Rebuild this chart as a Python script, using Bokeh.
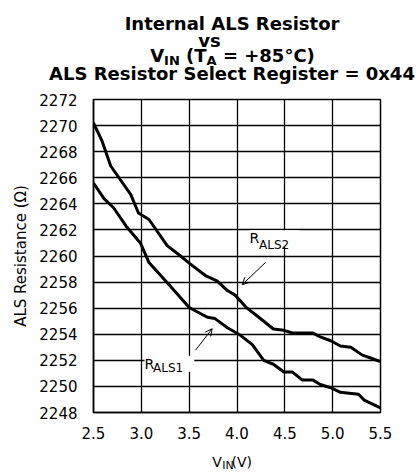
import math
from bokeh.plotting import figure
from bokeh.layouts import column
from bokeh.models import Range1d, FixedTicker, Label, Arrow, OpenHead, NumeralTickFormatter
from bokeh.core.properties import value
from bokeh.embed import file_html
from bokeh.resources import INLINE

# ---- data ----
vin_als2 = [2.50, 2.59, 2.68, 2.89, 2.97, 3.08, 3.27, 3.41, 3.51, 3.67, 3.79, 3.90, 3.98,
            4.09, 4.28, 4.38, 4.49, 4.58, 4.79, 4.87, 4.98, 5.08, 5.19, 5.31, 5.39, 5.50]
r_als2 = [2270.2, 2268.8, 2266.9, 2264.7, 2263.3, 2262.8, 2260.8, 2260.0, 2259.4, 2258.5,
          2258.1, 2257.35, 2257.0, 2256.1, 2255.0, 2254.4, 2254.3, 2254.1, 2254.1, 2253.8,
          2253.5, 2253.1, 2253.0, 2252.4, 2252.2, 2251.9]

vin_als1 = [2.50, 2.61, 2.71, 2.85, 2.99, 3.08, 3.29, 3.50, 3.69, 3.77, 3.90, 4.04, 4.16,
            4.28, 4.38, 4.49, 4.58, 4.68, 4.79, 4.87, 4.98, 5.08, 5.27, 5.33, 5.50]
r_als1 = [2265.6, 2264.4, 2263.7, 2262.2, 2261.0, 2259.5, 2257.8, 2256.05, 2255.3, 2255.2,
          2254.5, 2253.9, 2253.2, 2252.0, 2251.7, 2251.1, 2251.1, 2250.5, 2250.5, 2250.15,
          2249.9, 2249.55, 2249.4, 2248.95, 2248.35]

x_ticks = [2.5, 3.0, 3.5, 4.0, 4.5, 5.0, 5.5]
y_ticks = [2248, 2250, 2252, 2254, 2256, 2258, 2260, 2262, 2264, 2266, 2268, 2270, 2272]

FONT = "DejaVu Sans"
W = 420
OFF = 2
TOP_H, MAIN_H, BOT_H = 88, 353, 30


def strip(height, y_top):
    f = figure(width=W, height=height, output_backend="svg", toolbar_location=None,
               x_range=Range1d(0, W), y_range=Range1d(y_top + height, y_top),
               x_axis_type=None, y_axis_type=None, frame_align=False,
               min_border=0, min_border_left=0, min_border_right=0,
               min_border_top=0, min_border_bottom=0)
    f.title.visible = False
    f.grid.visible = False
    f.outline_line_color = None
    f.background_fill_color = "white"
    f.border_fill_color = "white"
    return f


def put(f, texts, xs, ys, size, bold=False, align="left"):
    f.text(x=xs, y=ys, text=texts, text_font=value(FONT), text_font_size=value(size),
           text_font_style=value("bold" if bold else "normal"), text_align=value(align),
           text_baseline=value("alphabetic"), text_color="black")


# ---- title strip ----
top = strip(TOP_H, OFF)
put(top, ["Internal ALS Resistor", "ALS Resistor Select Register = 0x44"],
    [231.5, 231.5], [25, 75], "18px", bold=True, align="center")
put(top, ["vs"], [209], [41.7], "18px", bold=True, align="center")
put(top, ["V", "(T", "= +85°C)"], [149.7, 185.6, 222.4], [56.7, 56.7, 56.7], "18px", bold=True)
put(top, ["IN", "A"], [163.6, 206.1], [61.7, 61.7], "13px", bold=True)

# ---- main plot ----
p = figure(width=W, height=MAIN_H, output_backend="svg", toolbar_location=None,
           x_range=Range1d(2.5, 5.5), y_range=Range1d(2248, 2272), frame_align=False)
p.min_border_left = 93
p.min_border_right = 40
p.min_border_top = 11
p.min_border_bottom = 27
p.background_fill_color = "white"
p.border_fill_color = "white"
p.outline_line_color = "black"
p.outline_line_width = 1.5


def vx(px):
    return 2.5 + (px - 93) * 3 / 287


def ry(py):
    return 2272 - (py - 101) * 24 / 315


for ax in (p.xaxis[0], p.yaxis[0]):
    ax.major_tick_line_color = None
    ax.minor_tick_line_color = None
    ax.axis_line_color = "black"
    ax.axis_line_width = 1.5
    ax.major_label_text_font = FONT
    ax.major_label_text_font_size = "15px"
    ax.major_label_text_color = "black"

p.xaxis.ticker = FixedTicker(ticks=x_ticks)
p.yaxis.ticker = FixedTicker(ticks=y_ticks)
p.xaxis.formatter = NumeralTickFormatter(format="0.0")
p.yaxis.formatter = NumeralTickFormatter(format="0")
p.xaxis.major_label_standoff = 8
p.yaxis.major_label_standoff = 10
p.yaxis.axis_label = "ALS Resistance (Ω)"
p.yaxis.axis_label_text_font = FONT
p.yaxis.axis_label_text_font_size = "15px"
p.yaxis.axis_label_text_font_style = "normal"
p.yaxis.axis_label_text_color = "black"
p.yaxis.axis_label_standoff = 6

p.xgrid.ticker = FixedTicker(ticks=x_ticks)
p.ygrid.ticker = FixedTicker(ticks=y_ticks)
for g in (p.xgrid[0], p.ygrid[0]):
    g.grid_line_color = "black"
    g.grid_line_width = 1.3

p.line(vin_als2, r_als2, line_color="black", line_width=3, line_join="round")
p.line(vin_als1, r_als1, line_color="black", line_width=3, line_join="round")


def lab(text, px, py, size, bg=None):
    l = Label(x=vx(px), y=ry(py), text=text, text_font=FONT, text_font_size=size,
              text_align="left", text_baseline="alphabetic", text_color="black")
    if bg is not None:
        l.background_fill_color = bg
    p.add_layout(l)


lab("R         ", 249, 240.7, "14px", bg="white")
lab("ALS2", 258.5, 247, "12px")
p.add_layout(Arrow(end=OpenHead(size=7, line_width=1, line_color="black"),
                   x_start=vx(265), y_start=ry(265), x_end=vx(241.7), y_end=ry(287.3),
                   line_width=1, line_color="black"))

lab("R         ", 144, 367, "14px", bg="white")
lab("ALS1", 152.5, 371.7, "12px")
p.add_layout(Arrow(end=OpenHead(size=7, line_width=1, line_color="black"),
                   x_start=vx(195), y_start=ry(353.3), x_end=vx(211.7), y_end=ry(331.7),
                   line_width=1, line_color="black"))

# ---- x-axis label strip ----
bot = strip(BOT_H, OFF + TOP_H + MAIN_H)
put(bot, ["V", "(V)"], [211.7, 231], [463.5, 463.5], "14px")
put(bot, ["IN"], [221.7], [466.5], "11px")

layout = column(top, p, bot, spacing=0)
open("out.html", "w").write(file_html(layout, INLINE))
